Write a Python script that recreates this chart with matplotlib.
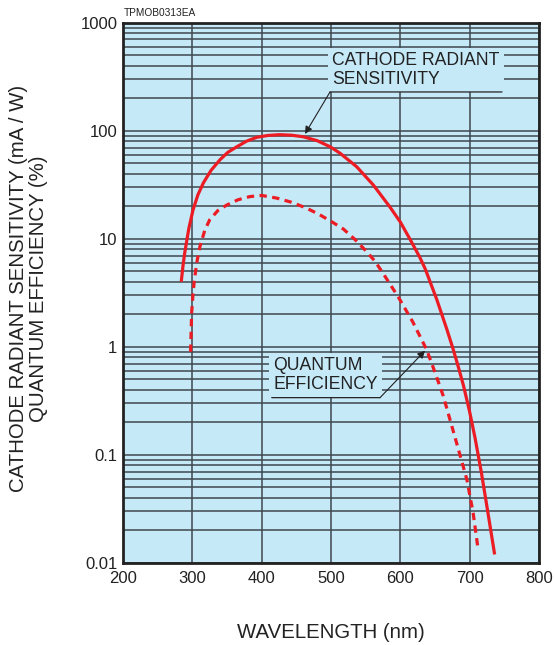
import matplotlib
matplotlib.use('Agg')
import matplotlib.pyplot as plt
from matplotlib.ticker import LogLocator, FixedLocator, NullFormatter, FixedFormatter

plt.rcParams['font.family'] = ['Liberation Sans', 'DejaVu Sans']

# cathode radiant sensitivity (mA/W)
sens_wl = [284, 286.5, 289, 295, 301, 308, 316, 327, 340, 351, 364, 378, 393, 409, 426, 443, 460, 480,
           499, 513, 537, 561, 585, 600, 614, 628, 636, 652.5, 667, 676, 684, 691, 700, 708,
           717, 725, 736]
sens_val = [4.0, 5.6, 7.4, 12.5, 18.5, 25.5, 33, 43, 54, 63, 71, 80, 87, 90.5, 92, 91, 88, 81,
            71, 62, 46.5, 31.5, 19.7, 14.3, 9.9, 6.76, 5.25, 2.75, 1.46, 0.96, 0.64, 0.44, 0.25,
            0.141, 0.068, 0.033, 0.012]

# quantum efficiency (%)
qe_wl = [297.5, 299, 301, 303, 307, 311, 318, 325, 337, 350, 366, 383, 400, 422, 443, 465, 483,
         501, 518, 535, 549, 563.5, 575, 597, 618, 638, 650, 662, 681, 696, 705, 711.5]
qe_val = [0.9, 2.05, 3.1, 4.2, 6.3, 8.5, 12, 15, 18.3, 20.6, 23, 24.6, 25.2, 23.8, 21.8, 19.2, 16.8,
          14.4, 12.3, 9.8, 7.9, 6.2, 4.8, 2.9, 1.7, 0.94, 0.58, 0.35, 0.13, 0.059, 0.029, 0.0144]

x_ticks = [200, 300, 400, 500, 600, 700, 800]
y_ticks = [0.01, 0.1, 1, 10, 100, 1000]
y_tick_labels = ['0.01', '0.1', '1', '10', '100', '1000']

BG = '#c6e9f8'
GRID = '#3e474e'
RED = '#ec1c24'

fig = plt.figure(figsize=(5.55, 6.45), dpi=100)
ax = fig.add_axes([0.2216, 0.1271, 0.7496, 0.8377])
ax.set_facecolor(BG)
ax.set_yscale('log')
ax.set_xlim(200, 800)
ax.set_ylim(0.01, 1000)

ax.xaxis.set_major_locator(FixedLocator(x_ticks))
ax.yaxis.set_major_locator(FixedLocator(y_ticks))
ax.yaxis.set_major_formatter(FixedFormatter(y_tick_labels))
ax.yaxis.set_minor_locator(LogLocator(base=10, subs=[2, 3, 4, 5, 6, 7, 8, 9], numticks=20))
ax.yaxis.set_minor_formatter(NullFormatter())
ax.tick_params(which='both', length=0, labelsize=12, colors='#222222')
ax.tick_params(axis='x', pad=6)
ax.tick_params(axis='y', pad=4)

ax.grid(True, which='major', axis='x', color=GRID, lw=1.1, zorder=1)
ax.grid(True, which='both', axis='y', color=GRID, lw=1.1, zorder=1)
ax.set_axisbelow(True)
for s in ax.spines.values():
    s.set_linewidth(2.0)
    s.set_color('#222222')
    s.set_zorder(6)

ax.plot(sens_wl, sens_val, color=RED, lw=2.3, solid_capstyle='butt', solid_joinstyle='round', zorder=4)
ax.plot(qe_wl, qe_val, color=RED, lw=2.3, linestyle=(0, (2.3, 1.7)), zorder=4)

# annotation labels with background boxes that hide the grid
box = dict(boxstyle='square,pad=0.25', facecolor=BG, edgecolor='none')
ax.text(501.5, 249, 'CATHODE RADIANT\nSENSITIVITY', fontsize=12.7, color='#222222',
        ha='left', va='bottom', linespacing=1.15, bbox=box, zorder=3)
ax.annotate('', xy=(746.7, 228.6), xytext=(498.6, 228.6),
            arrowprops=dict(arrowstyle='-', lw=0.9, color='#222222', shrinkA=0, shrinkB=0), zorder=5)
ax.annotate('', xy=(462.5, 93.5), xytext=(498.6, 228.6),
            arrowprops=dict(arrowstyle='-|>', lw=0.8, color='#222222', mutation_scale=11,
                            shrinkA=0, shrinkB=0), zorder=5)

ax.text(416.4, 0.3745, 'QUANTUM\nEFFICIENCY', fontsize=12.7, color='#222222',
        ha='left', va='bottom', linespacing=1.15, bbox=box, zorder=3)
ax.annotate('', xy=(570.7, 0.339), xytext=(414.5, 0.339),
            arrowprops=dict(arrowstyle='-', lw=0.9, color='#222222', shrinkA=0, shrinkB=0), zorder=5)
ax.annotate('', xy=(635.6, 0.922), xytext=(570.7, 0.339),
            arrowprops=dict(arrowstyle='-|>', lw=0.8, color='#222222', mutation_scale=11,
                            shrinkA=0, shrinkB=0), zorder=5)

fig.text(0.0514, 0.553, 'CATHODE RADIANT SENSITIVITY (mA / W)\nQUANTUM EFFICIENCY (%)',
         rotation=90, ha='center', va='center', multialignment='center',
         fontsize=14.7, linespacing=1.1, color='#222222')
fig.text(0.597, 0.02, 'WAVELENGTH (nm)', ha='center', va='center', fontsize=14.7, color='#222222')
fig.text(124 / 555, 1 - 16 / 645, 'TPMOB0313EA', ha='left', va='baseline', fontsize=7.3, color='#222222')

fig.savefig('out.png', dpi=100, facecolor='white')
